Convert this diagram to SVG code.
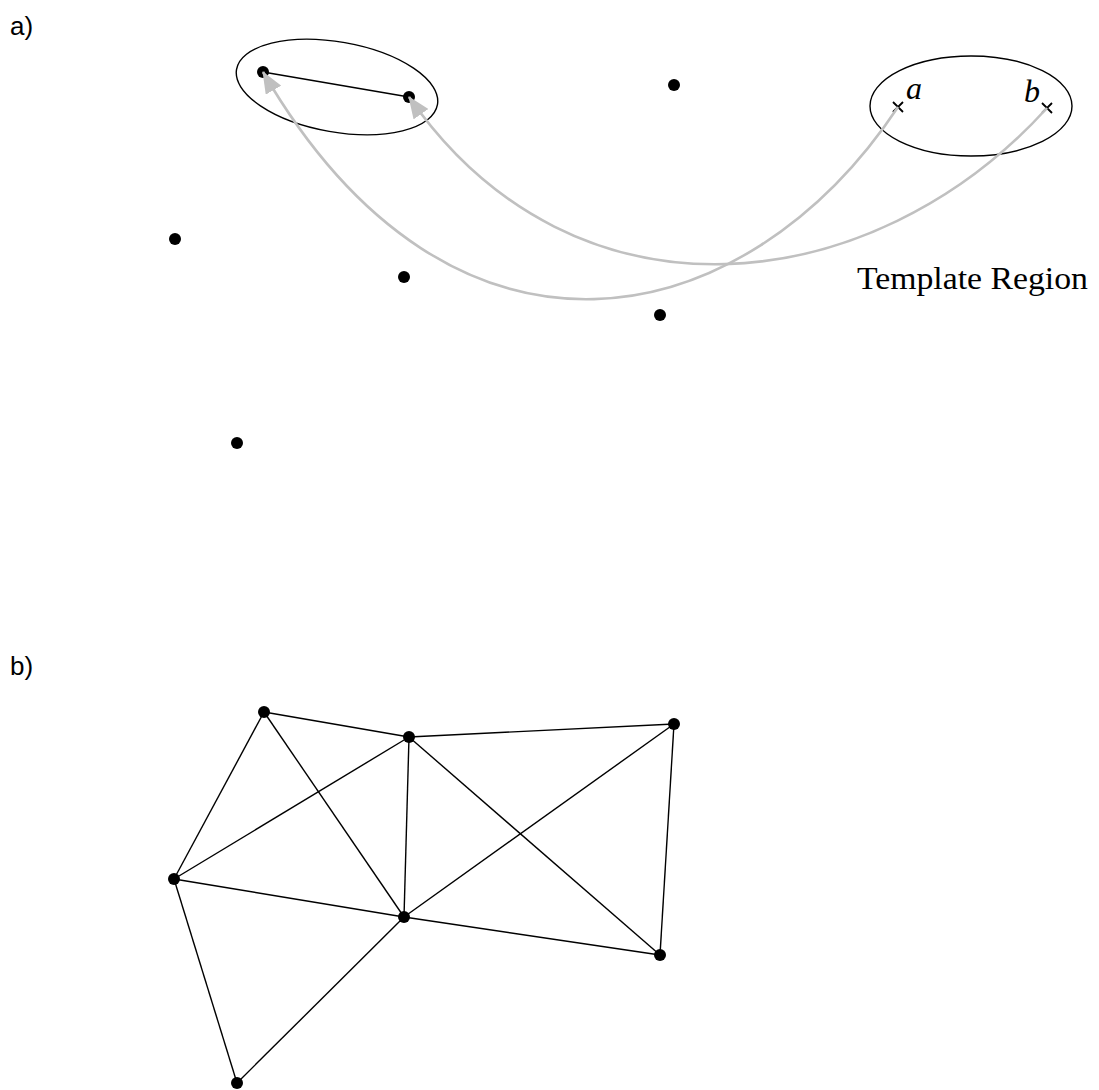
<svg xmlns="http://www.w3.org/2000/svg" width="1099" height="1090" viewBox="0 0 1099 1090">
<style>
.dot{fill:#000}
.edge{stroke:#000;stroke-width:1.4;fill:none}
.ell{stroke:#000;stroke-width:1.4;fill:none}
.arc{stroke:#c0c0c0;stroke-width:2.6;fill:none;marker-end:url(#ah)}
.lbl{font-family:"Liberation Sans",Arial,sans-serif;font-size:26px;fill:#000}
.math{font-family:"Liberation Serif","Times New Roman",serif;font-style:italic;font-size:32px;fill:#000}
.serif{font-family:"Liberation Serif","Times New Roman",serif;font-size:31px;fill:#000}
.cross{stroke:#000;stroke-width:1.8}
</style>
<defs>
<marker id="ah" markerUnits="userSpaceOnUse" viewBox="0 0 22 18" refX="21" refY="9" markerWidth="22" markerHeight="18" orient="auto">
<path d="M0,0 L22,9 L0,18 Z" fill="#c0c0c0"/>
</marker>
</defs>
<rect width="1099" height="1090" fill="#fff"/>
<text class="lbl" x="10" y="35">a)</text>
<text class="lbl" x="10" y="675">b)</text>

<g id="part-a-shapes">
<ellipse class="ell" cx="337" cy="87" rx="102" ry="45" transform="rotate(10 337 87)"/>
<ellipse class="ell" cx="971" cy="106" rx="101" ry="50"/>
<text class="serif" x="857" y="289" textLength="231" lengthAdjust="spacingAndGlyphs">Template Region</text>
</g>

<g id="a-edges">
<line class="edge" x1="263" y1="72" x2="409" y2="97"/>
</g>

<g id="node-a1"><circle class="dot" cx="263" cy="72" r="6"/></g>
<g id="node-a2"><circle class="dot" cx="409" cy="97" r="6"/></g>
<g id="node-a3"><circle class="dot" cx="674" cy="85" r="6"/></g>
<g id="node-a4"><circle class="dot" cx="175" cy="239" r="6"/></g>
<g id="node-a5"><circle class="dot" cx="404" cy="277" r="6"/></g>
<g id="node-a6"><circle class="dot" cx="660" cy="315" r="6"/></g>
<g id="node-a7"><circle class="dot" cx="237" cy="443" r="6"/></g>

<g id="point-a">
<path class="cross" d="M893,102 L903,112 M893,112 L903,102"/>
<text class="math" x="906" y="99">a</text>
</g>
<g id="point-b">
<path class="cross" d="M1042,103 L1052,113 M1042,113 L1052,103"/>
<text class="math" x="1024" y="102">b</text>
</g>

<g id="mapping-arrows">
<path class="arc" d="M898,107 C744,339 453,399 263,72"/>
<path class="arc" d="M1047,108 C873,300 575,336 409,97"/>
</g>

<g id="b-edges">
<line class="edge" x1="264" y1="712" x2="409" y2="737"/>
<line class="edge" x1="409" y1="737" x2="674" y2="724"/>
<line class="edge" x1="264" y1="712" x2="174" y2="879"/>
<line class="edge" x1="264" y1="712" x2="404" y2="917"/>
<line class="edge" x1="409" y1="737" x2="174" y2="879"/>
<line class="edge" x1="409" y1="737" x2="404" y2="917"/>
<line class="edge" x1="409" y1="737" x2="660" y2="955"/>
<line class="edge" x1="674" y1="724" x2="404" y2="917"/>
<line class="edge" x1="674" y1="724" x2="660" y2="955"/>
<line class="edge" x1="174" y1="879" x2="404" y2="917"/>
<line class="edge" x1="174" y1="879" x2="237" y2="1083"/>
<line class="edge" x1="404" y1="917" x2="660" y2="955"/>
<line class="edge" x1="404" y1="917" x2="237" y2="1083"/>
</g>

<g id="node-b1"><circle class="dot" cx="264" cy="712" r="6"/></g>
<g id="node-b2"><circle class="dot" cx="409" cy="737" r="6"/></g>
<g id="node-b3"><circle class="dot" cx="674" cy="724" r="6"/></g>
<g id="node-b4"><circle class="dot" cx="174" cy="879" r="6"/></g>
<g id="node-b5"><circle class="dot" cx="404" cy="917" r="6"/></g>
<g id="node-b6"><circle class="dot" cx="660" cy="955" r="6"/></g>
<g id="node-b7"><circle class="dot" cx="237" cy="1083" r="6"/></g>
</svg>
